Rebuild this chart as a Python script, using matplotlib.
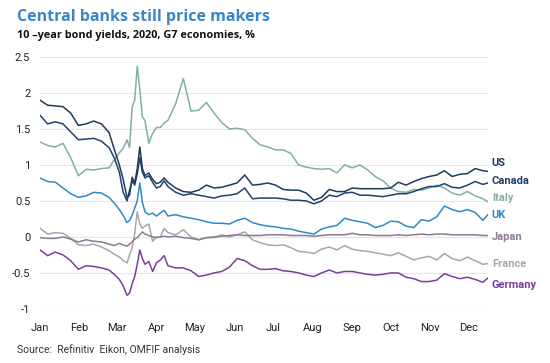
import numpy as np
import matplotlib
matplotlib.use("Agg")
import matplotlib.pyplot as plt

# day of year (0 = 1 Jan 2020) for each sampled point
days = [0, 6, 12, 18, 24, 30, 36, 42, 48, 54,
        58, 62, 65, 68, 70, 72, 74, 76, 78, 80, 82, 85, 88, 91, 94, 97, 100,
        106, 112, 118, 124, 130, 136, 142, 148, 154, 160, 166, 172, 178, 184,
        190, 196, 202, 208, 214, 220, 226, 232, 238, 244, 250, 256, 262, 268,
        274, 280, 286, 292, 298, 304, 310, 316, 322, 328, 334, 340, 346, 350]

us = [1.90, 1.83, 1.82, 1.81, 1.72, 1.55, 1.57, 1.61, 1.57, 1.45,
      1.22, 1.00, 0.80, 0.55, 0.58, 0.83, 0.75, 0.95, 1.25, 0.95, 0.85, 0.89, 0.80, 0.74, 0.76, 0.82, 0.76,
      0.68, 0.63, 0.62, 0.65, 0.72, 0.68, 0.69, 0.72, 0.75, 0.86, 0.72, 0.73, 0.75, 0.72,
      0.66, 0.65, 0.65, 0.61, 0.51, 0.55, 0.66, 0.63, 0.63, 0.68, 0.67, 0.67, 0.67, 0.67,
      0.68, 0.76, 0.72, 0.77, 0.81, 0.84, 0.86, 0.92, 0.84, 0.87, 0.88, 0.95, 0.92, 0.91]

canada = [1.69, 1.57, 1.60, 1.57, 1.46, 1.35, 1.36, 1.37, 1.33, 1.24,
          1.10, 0.90, 0.62, 0.50, 0.65, 0.78, 0.72, 0.88, 1.10, 0.90, 0.82, 0.85, 0.76, 0.68, 0.70, 0.78, 0.70,
          0.62, 0.58, 0.60, 0.58, 0.56, 0.54, 0.57, 0.58, 0.60, 0.68, 0.53, 0.54, 0.54, 0.54,
          0.53, 0.51, 0.51, 0.50, 0.46, 0.50, 0.58, 0.56, 0.61, 0.62, 0.58, 0.58, 0.57, 0.56,
          0.58, 0.60, 0.60, 0.63, 0.67, 0.70, 0.70, 0.74, 0.69, 0.68, 0.72, 0.77, 0.73, 0.75]

italy = [1.32, 1.27, 1.25, 1.30, 1.10, 0.85, 0.94, 0.93, 0.95, 0.96,
         1.07, 1.17, 1.23, 1.35, 1.24, 1.81, 1.90, 2.37, 2.05, 1.67, 1.62, 1.30, 1.44, 1.52, 1.52, 1.58, 1.62,
         1.85, 2.20, 1.75, 1.76, 1.87, 1.72, 1.59, 1.50, 1.51, 1.49, 1.37, 1.28, 1.25, 1.21,
         1.21, 1.16, 1.00, 0.97, 0.95, 0.94, 0.95, 0.89, 1.00, 0.96, 1.00, 0.93, 0.84, 0.78,
         0.68, 0.63, 0.62, 0.66, 0.65, 0.68, 0.72, 0.68, 0.61, 0.58, 0.63, 0.57, 0.53, 0.49]

uk = [0.82, 0.77, 0.76, 0.68, 0.60, 0.55, 0.57, 0.62, 0.61, 0.55,
      0.47, 0.38, 0.30, 0.20, 0.23, 0.30, 0.40, 0.50, 0.75, 0.48, 0.35, 0.31, 0.33, 0.29, 0.33, 0.37, 0.29,
      0.31, 0.28, 0.26, 0.24, 0.21, 0.19, 0.19, 0.18, 0.23, 0.26, 0.20, 0.17, 0.15, 0.14,
      0.12, 0.11, 0.08, 0.06, 0.04, 0.11, 0.14, 0.16, 0.26, 0.23, 0.21, 0.19, 0.13, 0.16,
      0.22, 0.21, 0.15, 0.13, 0.24, 0.22, 0.28, 0.43, 0.38, 0.35, 0.38, 0.34, 0.23, 0.31]

japan = [-0.01, -0.02, -0.02, 0.00, -0.03, -0.07, -0.04, -0.06, -0.07, -0.10,
         -0.12, -0.09, -0.11, -0.13, -0.10, -0.07, -0.03, -0.01, 0.03, 0.07, 0.04, 0.02, 0.00, -0.01, 0.00, 0.01, 0.00,
         0.01, -0.01, -0.02, -0.04, -0.01, 0.00, 0.01, 0.02, 0.03, 0.02, 0.02, 0.02, 0.03, 0.03,
         0.03, 0.02, 0.02, 0.02, 0.01, 0.02, 0.03, 0.03, 0.03, 0.05, 0.03, 0.03, 0.02, 0.02,
         0.02, 0.03, 0.02, 0.03, 0.04, 0.03, 0.04, 0.04, 0.03, 0.03, 0.03, 0.03, 0.02, 0.02]

france = [0.12, 0.04, 0.06, 0.05, -0.02, -0.11, -0.12, -0.10, -0.14, -0.19,
          -0.24, -0.28, -0.33, -0.36, -0.25, -0.15, 0.05, 0.35, 0.18, 0.12, 0.15, 0.18, -0.06, 0.00, 0.00, 0.12, 0.06,
          0.03, 0.10, 0.00, -0.04, -0.01, -0.01, 0.03, 0.00, 0.03, 0.07, -0.04, -0.08, -0.11, -0.12,
          -0.11, -0.15, -0.20, -0.21, -0.23, -0.17, -0.14, -0.18, -0.12, -0.17, -0.19, -0.20, -0.22, -0.24,
          -0.26, -0.22, -0.27, -0.32, -0.29, -0.27, -0.32, -0.23, -0.30, -0.33, -0.28, -0.33, -0.38, -0.37]

germany = [-0.18, -0.26, -0.21, -0.25, -0.33, -0.45, -0.40, -0.41, -0.43, -0.46,
           -0.52, -0.59, -0.68, -0.81, -0.78, -0.65, -0.55, -0.38, -0.18, -0.30, -0.38, -0.34, -0.48, -0.36, -0.32, -0.26, -0.40,
           -0.43, -0.43, -0.47, -0.55, -0.53, -0.50, -0.48, -0.42, -0.30, -0.33, -0.40, -0.45, -0.45, -0.44,
           -0.47, -0.48, -0.50, -0.53, -0.55, -0.50, -0.46, -0.50, -0.48, -0.48, -0.50, -0.52, -0.53, -0.52,
           -0.50, -0.50, -0.56, -0.58, -0.62, -0.62, -0.60, -0.51, -0.55, -0.58, -0.56, -0.59, -0.63, -0.57]

names = ["US", "Canada", "Italy", "UK", "Japan", "France", "Germany"]
series = [us, canada, italy, uk, japan, france, germany]
colours = ["#1f3b5a", "#22406e", "#80b0a4", "#2f89c9", "#8b7b95", "#a7a7a7", "#7a3f9e"]
label_y = [1.03, 0.78, 0.54, 0.30, 0.00, -0.37, -0.67]

months = ["Jan", "Feb", "Mar", "Apr", "May", "Jun", "Jul", "Aug", "Sep", "Oct", "Nov", "Dec"]
month_start = [0, 31, 60, 91, 121, 152, 182, 213, 244, 274, 305, 335]
yticks = [2.5, 2, 1.5, 1, 0.5, 0, -0.5, -1]

plt.rcParams["font.family"] = ["Roboto", "DejaVu Sans"]

fig = plt.figure(figsize=(5.5, 3.63), dpi=100)
ax = fig.add_axes([0.0727, 0.149, 0.8145, 0.694])

for vals, col in zip(series[::-1], colours[::-1]):
    ax.plot(days, vals, color=col, lw=1.1, solid_joinstyle="round")

ax.set_xlim(0, 350)
ax.set_ylim(-1, 2.5)
ax.set_yticks(yticks)
ax.set_yticklabels([f"{t:g}" for t in yticks])
ax.set_xticks(month_start)
ax.set_xticklabels(months)
ax.tick_params(length=0, labelsize=8, colors="#222222")
ax.tick_params(axis="y", pad=7)
ax.tick_params(axis="x", pad=10)
ax.grid(axis="y", color="#e6e6e6", lw=0.8)
ax.set_axisbelow(True)
for s in ax.spines.values():
    s.set_visible(False)

for n, col, yl in zip(names, colours, label_y):
    ax.text(353, yl, n, color=col, fontsize=8, fontweight="bold",
            va="center", ha="left", clip_on=False)

fig.text(0.031, 0.953, "Central banks still price makers", color="#3a87c8",
         fontsize=11.5, fontweight="bold", family="Open Sans", va="center")
fig.text(0.031, 0.903, "10 \u2013year bond yields, 2020, G7 economies, %", color="#111111",
         fontsize=7.8, fontweight="bold", family="Open Sans", va="center")
fig.text(0.031, 0.036, "Source:  Refinitiv  Eikon, OMFIF analysis", color="#333333",
         fontsize=7.5, va="center")

fig.savefig("out.png", dpi=100)
